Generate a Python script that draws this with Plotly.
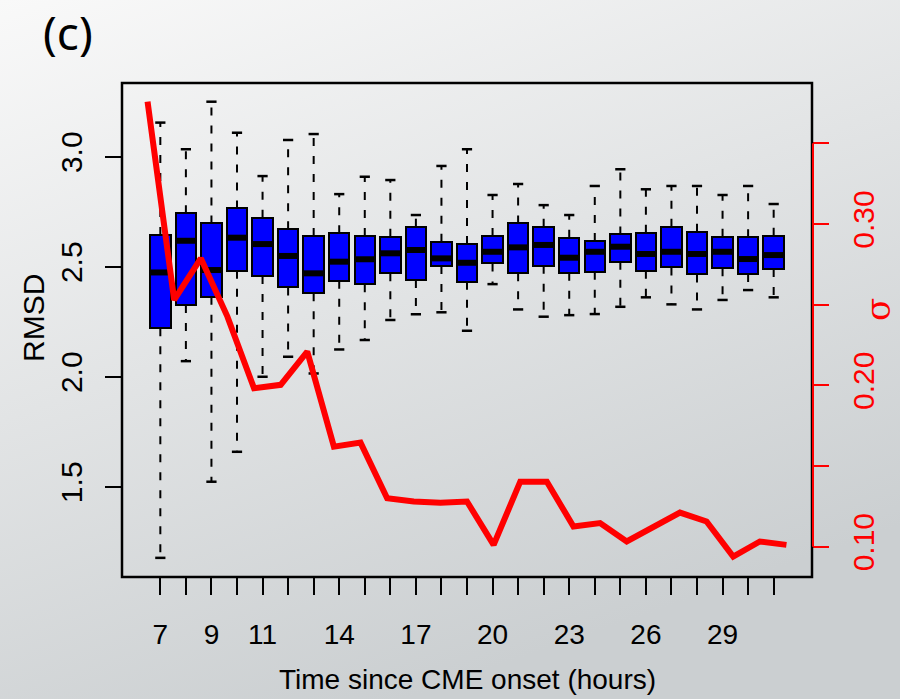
import base64
import plotly.graph_objects as go

# ---------------- data ----------------
hours = list(range(7, 32))
tick_labels = ["7", "", "9", "", "11", "", "", "14", "", "", "17", "", "", "20", "", "",
               "23", "", "", "26", "", "", "29", "", ""]
rmsd_upper = [3.155, 3.034, 3.25, 3.109, 2.912, 3.076, 3.103, 2.83, 2.909, 2.894, 2.735, 2.958, 3.034,
              2.826, 2.876, 2.78, 2.735, 2.867, 2.943, 2.852, 2.867, 2.867, 2.826, 2.867, 2.785]
rmsd_q3 = [2.644, 2.743, 2.697, 2.765, 2.723, 2.67, 2.64, 2.652, 2.64, 2.636, 2.682, 2.614, 2.603,
           2.64, 2.697, 2.682, 2.632, 2.617, 2.647, 2.655, 2.682, 2.659, 2.636, 2.634, 2.641]
rmsd_median = [2.474, 2.618, 2.485, 2.632, 2.603, 2.549, 2.47, 2.523, 2.534, 2.561, 2.576, 2.538, 2.518,
               2.568, 2.588, 2.599, 2.541, 2.568, 2.591, 2.558, 2.568, 2.558, 2.568, 2.535, 2.553]
rmsd_q1 = [2.22, 2.326, 2.364, 2.482, 2.458, 2.406, 2.379, 2.436, 2.42, 2.47, 2.44, 2.503, 2.432,
           2.515, 2.47, 2.505, 2.473, 2.477, 2.523, 2.482, 2.497, 2.465, 2.493, 2.467, 2.49]
rmsd_lower = [1.177, 2.071, 1.523, 1.659, 2.0, 2.091, 2.015, 2.124, 2.167, 2.258, 2.284, 2.293, 2.209,
              2.421, 2.306, 2.273, 2.28, 2.285, 2.318, 2.361, 2.329, 2.306, 2.349, 2.394, 2.361]
sigma = [0.3758, 0.2529, 0.2787, 0.2426, 0.1982, 0.2003, 0.2209, 0.162, 0.1645, 0.130, 0.128, 0.1273,
         0.128, 0.1011, 0.1403, 0.1403, 0.1125, 0.1146, 0.1032, 0.1125, 0.1211, 0.1156, 0.0939, 0.1032, 0.1011]
rmsd_ticks = [1.5, 2.0, 2.5, 3.0]
sigma_ticks = [0.10, 0.15, 0.20, 0.25, 0.30, 0.35]
sigma_ticktext = ["0.10", "", "0.20", "", "0.30", ""]

# ---------------- layout geometry ----------------
W, H = 900, 699
L, R, T, B = 122, 88, 83, 122
PW, PH = W - L - R, H - T - B
BOXW = 0.8
CAPW = 0.4


def px(xp):
    return (xp - L) / PW


def py(yp):
    return (H - B - yp) / PH


FONT = "'Liberation Sans', Arial, Helvetica, sans-serif"

fig = go.Figure()

# whiskers (dashed)
wx, wy = [], []
for h, lo, q1, q3, up in zip(hours, rmsd_lower, rmsd_q1, rmsd_q3, rmsd_upper):
    wx += [h, h, None, h, h, None]
    wy += [q3, up, None, q1, lo, None]
fig.add_trace(go.Scatter(x=wx, y=wy, mode="lines", line=dict(color="black", width=2, dash="8px,10px"),
                         hoverinfo="skip", showlegend=False))
# staples
cx, cy = [], []
for h, lo, up in zip(hours, rmsd_lower, rmsd_upper):
    cx += [h - CAPW / 2, h + CAPW / 2, None, h - CAPW / 2, h + CAPW / 2, None]
    cy += [up, up, None, lo, lo, None]
fig.add_trace(go.Scatter(x=cx, y=cy, mode="lines", line=dict(color="black", width=2.5),
                         hoverinfo="skip", showlegend=False))
# boxes
fig.add_trace(go.Bar(x=hours, base=rmsd_q1, y=[b - a for a, b in zip(rmsd_q1, rmsd_q3)], width=BOXW,
                     marker=dict(color="#0000ff", line=dict(color="black", width=2)),
                     showlegend=False))
# medians
mx, my = [], []
for h, m in zip(hours, rmsd_median):
    mx += [h - BOXW / 2, h + BOXW / 2, None]
    my += [m, m, None]
fig.add_trace(go.Scatter(x=mx, y=my, mode="lines", line=dict(color="black", width=6),
                         hoverinfo="skip", showlegend=False))

# sigma line
fig.add_trace(go.Scatter(x=hours, y=sigma, mode="lines", xaxis="x2", yaxis="y2",
                         line=dict(color="#ff0000", width=6), showlegend=False))

# background gradient
svg = ('<svg xmlns="http://www.w3.org/2000/svg" width="900" height="699" viewBox="0 0 900 699" '
       'preserveAspectRatio="none"><defs><linearGradient id="g" x1="0" y1="0" x2="0.45" y2="1">'
       '<stop offset="0" stop-color="#f9f9f9"/><stop offset="1" stop-color="#cbcfd1"/>'
       '</linearGradient></defs><rect width="900" height="699" fill="url(#g)"/></svg>')
src = "data:image/svg+xml;base64," + base64.b64encode(svg.encode()).decode()

fig.update_layout(
    width=W, height=H, autosize=False,
    margin=dict(l=L, r=R, t=T, b=B, pad=0),
    paper_bgcolor="rgba(0,0,0,0)", plot_bgcolor="rgba(0,0,0,0)",
    images=[dict(source=src, xref="paper", yref="paper", x=px(0), y=py(0), sizex=W / PW, sizey=H / PH,
                 xanchor="left", yanchor="top", sizing="stretch", layer="below")],
    bargap=0,
    xaxis=dict(range=[5.5, 32.5], tickvals=hours, ticktext=tick_labels, ticks="outside", ticklen=17,
               tickwidth=2, tickcolor="black", showgrid=False, zeroline=False, showline=False,
               tickfont=dict(family=FONT, size=28, color="black"), ticklabelstandoff=15),
    yaxis=dict(range=[1.09, 3.335], tickvals=rmsd_ticks, ticktext=[f"{v:.1f}" for v in rmsd_ticks],
               ticks="outside", ticklen=16, tickwidth=2, tickcolor="black", tickangle=-90,
               showgrid=False, zeroline=False, showline=False,
               tickfont=dict(family=FONT, size=30, color="black"), ticklabelstandoff=11),
    xaxis2=dict(range=[6.04, 31.96], overlaying="x", visible=False),
    yaxis2=dict(range=[0.0812, 0.3874], overlaying="y", side="right", tickvals=sigma_ticks,
                ticktext=sigma_ticktext, ticks="outside", ticklen=16, tickwidth=2, tickcolor="#ff0000",
                tickangle=-90, showgrid=False, zeroline=False, showline=False,
                tickfont=dict(family=FONT, size=30, color="#ff0000"), ticklabelstandoff=9),
    shapes=[
        dict(type="rect", xref="paper", yref="paper", x0=0, x1=1, y0=0, y1=1,
             line=dict(color="black", width=2.5), layer="above"),
        dict(type="line", xref="paper", yref="y2", x0=1 + 1 / PW, x1=1 + 1 / PW,
             y0=sigma_ticks[0], y1=sigma_ticks[-1], line=dict(color="#ff0000", width=2), layer="above"),
    ],
    annotations=[
        dict(text="Time since CME onset (hours)", xref="paper", yref="paper", x=px(467), y=py(679),
             showarrow=False, font=dict(family=FONT, size=28, color="black"), xanchor="center", yanchor="middle"),
        dict(text="RMSD", xref="paper", yref="paper", x=px(33), y=py(318), textangle=-90,
             showarrow=False, font=dict(family=FONT, size=30, color="black"), xanchor="center", yanchor="middle"),
        dict(text="σ", xref="paper", yref="paper", x=px(878), y=py(309), textangle=-90,
             showarrow=False, font=dict(family="'DejaVu Serif', serif", size=34, color="#ff0000"),
             xanchor="center", yanchor="middle"),
        dict(text="(c)", xref="paper", yref="paper", x=px(68), y=py(32),
             showarrow=False, font=dict(family="'Noto Sans', sans-serif", size=46, color="black"),
             xanchor="center", yanchor="middle"),
    ],
)

fig.write_html("out.html")
